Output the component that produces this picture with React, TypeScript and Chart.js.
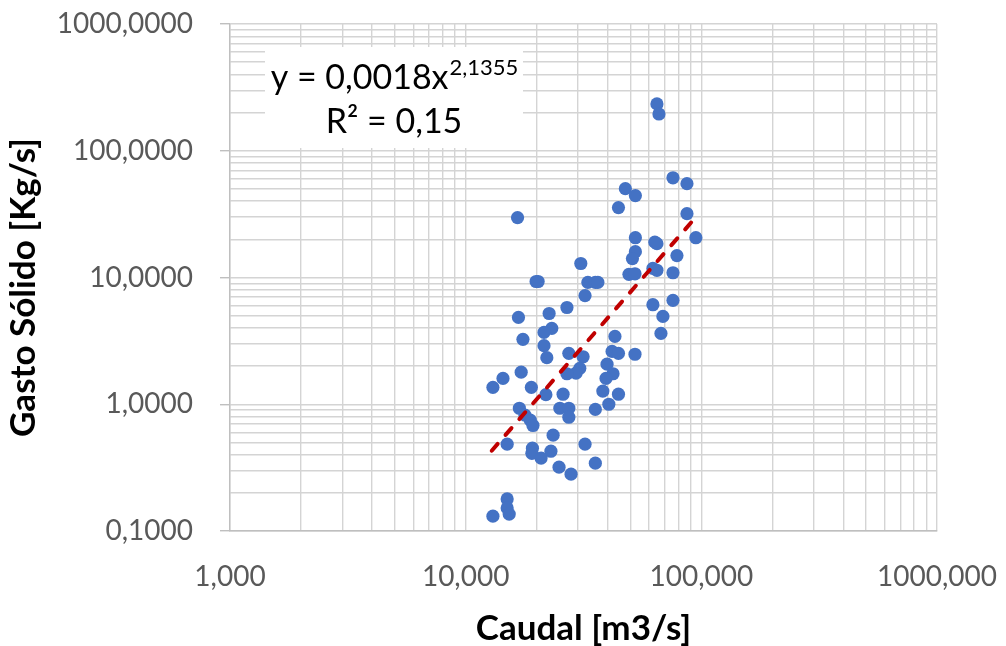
import React, { useEffect, useRef } from 'react';
import { Chart, registerables } from 'chart.js';

Chart.register(...registerables);

// Caudal [m3/s] (x) and Gasto Sólido [Kg/s] (y) observations
const caudal = [64.8, 66.1, 75.8, 86.9, 47.6, 52.5, 44.5, 86.9, 16.6, 94.8, 52.5, 64.8, 63.5, 52.5, 51.0, 78.8, 30.8, 49.3, 52.3, 62.3, 64.8, 75.8, 19.9, 20.3, 33.0, 35.5, 36.4, 32.1, 75.8, 62.3, 26.9, 16.75, 22.6, 68.7, 23.2, 21.5, 67.4, 17.5, 43.0, 21.5, 27.4, 31.5, 41.8, 44.5, 52.3, 22.1, 39.8, 30.5, 29.4, 26.9, 42.2, 39.4, 17.2, 14.4, 13.05, 19.0, 38.2, 44.5, 25.9, 21.9, 16.9, 17.85, 18.8, 19.3, 25.1, 27.4, 27.4, 35.5, 40.5, 23.5, 15.0, 32.1, 19.2, 19.1, 23.0, 20.9, 35.5, 24.9, 28.0, 15.0, 15.0, 15.3, 13.05];
const gasto = [234, 195, 61.2, 55, 50.2, 44.3, 35.6, 31.9, 29.7, 20.6, 20.6, 18.5, 19.0, 16.0, 14.1, 14.9, 12.9, 10.6, 10.7, 11.8, 11.4, 10.9, 9.3, 9.3, 9.15, 9.15, 9.15, 7.2, 6.6, 6.1, 5.8, 4.84, 5.2, 4.93, 3.97, 3.69, 3.62, 3.25, 3.43, 2.9, 2.52, 2.37, 2.61, 2.52, 2.48, 2.33, 2.07, 1.92, 1.76, 1.74, 1.74, 1.6, 1.79, 1.6, 1.36, 1.36, 1.27, 1.2, 1.2, 1.19, 0.93, 0.82, 0.75, 0.68, 0.93, 0.93, 0.79, 0.91, 1.0, 0.57, 0.484, 0.484, 0.45, 0.41, 0.426, 0.376, 0.343, 0.319, 0.281, 0.179, 0.152, 0.136, 0.131];

// Power trendline end points (y = 0,0018x^2,1355)
const trendCaudal = [12.9, 95.6];
const trendGasto = [0.43, 30.5];

// Axis ticks
const xMajorTicks = [1, 10, 100, 1000];
const yMajorTicks = [0.1, 1, 10, 100, 1000];
const minorMultipliers = [1, 2, 3, 4, 5, 6, 7, 8, 9];

const xTitle = 'Caudal [m3/s]';
const yTitle = 'Gasto Sólido [Kg/s]';
const equationMain = 'y = 0,0018x';
const equationExp = '2,1355';
const equationR2 = 'R² = 0,15';

const FONT = 'Lato, "Open Sans", sans-serif';

function buildTicks(majors: number[]): number[] {
  const out: number[] = [];
  for (let i = 0; i < majors.length - 1; i++) {
    for (const m of minorMultipliers) out.push(Number((majors[i] * m).toPrecision(6)));
  }
  out.push(majors[majors.length - 1]);
  return out;
}

const xTicks = buildTicks(xMajorTicks);
const yTicks = buildTicks(yMajorTicks);

const equationPlugin = {
  id: 'equationBox',
  afterDatasetsDraw(chart: any) {
    const { ctx, chartArea } = chart;
    const left = chartArea.left + 35;
    const top = chartArea.top + 23;
    const w = 258;
    const h = 101;
    ctx.save();
    ctx.fillStyle = '#ffffff';
    ctx.fillRect(left, top, w, h);
    const cx = left + w / 2;
    ctx.fillStyle = '#000000';
    ctx.textBaseline = 'alphabetic';
    ctx.textAlign = 'left';
    const mainFont = `34px ${FONT}`;
    const supFont = `22px ${FONT}`;
    ctx.font = mainFont;
    const mw = ctx.measureText(equationMain).width;
    ctx.font = supFont;
    const sw = ctx.measureText(equationExp).width;
    const x0 = cx - (mw + sw) / 2;
    ctx.font = mainFont;
    ctx.fillText(equationMain, x0, top + 42);
    ctx.font = supFont;
    ctx.fillText(equationExp, x0 + mw + 1, top + 28);
    ctx.font = mainFont;
    ctx.textAlign = 'center';
    ctx.fillText(equationR2, cx, top + 86);

    // Y axis title (rotated)
    ctx.save();
    ctx.translate(35, (chartArea.top + chartArea.bottom) / 2 + 10);
    ctx.rotate(-Math.PI / 2);
    ctx.font = `bold 35px ${FONT}`;
    ctx.fillStyle = '#000000';
    ctx.textAlign = 'center';
    ctx.textBaseline = 'alphabetic';
    ctx.fillText(yTitle, 0, 0);
    ctx.restore();
    ctx.restore();
  },
};

export default function App() {
  const canvasRef = useRef<HTMLCanvasElement | null>(null);

  useEffect(() => {
    if (!canvasRef.current) return;
    const points = caudal.map((x, i) => ({ x, y: gasto[i] }));
    const trend = trendCaudal.map((x, i) => ({ x, y: trendGasto[i] }));
    const chart = new Chart(canvasRef.current, {
      type: 'scatter',
      data: {
        datasets: [
          {
            label: 'Tendencia',
            data: trend,
            showLine: true,
            borderColor: '#C00000',
            borderWidth: 4,
            borderDash: [9, 12],
            borderCapStyle: 'round',
            pointRadius: 0,
            order: 0,
          } as any,
          {
            label: 'Datos',
            data: points,
            backgroundColor: '#4472C4',
            borderWidth: 0,
            pointRadius: 6.6,
            pointHoverRadius: 6.6,
            order: 1,
          },
        ],
      },
      options: {
        animation: false,
        responsive: false,
        devicePixelRatio: 1,
        layout: { padding: { left: 0, top: 24, right: 69, bottom: 0 } },
        plugins: { legend: { display: false }, tooltip: { enabled: false } },
        scales: {
          x: {
            type: 'logarithmic',
            min: 1,
            max: 1000,
            afterBuildTicks: (s: any) => {
              s.ticks = xTicks.map((v) => ({ value: v }));
            },
            afterFit: (s: any) => {
              s.height = 115;
              s.paddingLeft = 0;
              s.paddingRight = 0;
              s.paddingTop = 0;
              s.paddingBottom = 0;
            },
            ticks: {
              autoSkip: false,
              maxRotation: 0,
              minRotation: 0,
              padding: 29,
              color: '#595959',
              font: { family: FONT, size: 28 },
              callback: (v: any) => (xMajorTicks.includes(v) ? Number(v).toFixed(3).replace('.', ',') : ''),
            },
            grid: { color: '#d4d4d4', lineWidth: 1.4, drawTicks: false },
            border: { color: '#bfbfbf', width: 1.4 },
            title: {
              display: true,
              text: xTitle,
              color: '#000000',
              font: { family: FONT, size: 35, weight: 'bold', lineHeight: 1 },
              padding: { top: 0, bottom: 0 },
            },
          },
          y: {
            type: 'logarithmic',
            min: 0.1,
            max: 1000,
            afterBuildTicks: (s: any) => {
              s.ticks = yTicks.map((v) => ({ value: v }));
            },
            afterFit: (s: any) => {
              s.width = 230;
              s.paddingLeft = 0;
              s.paddingRight = 0;
              s.paddingTop = 0;
              s.paddingBottom = 0;
            },
            ticks: {
              autoSkip: false,
              padding: 27,
              color: '#595959',
              font: { family: FONT, size: 28 },
              callback: (v: any) => (yMajorTicks.includes(v) ? Number(v).toFixed(4).replace('.', ',') : ''),
            },
            grid: {
              color: '#d4d4d4',
              lineWidth: 1.4,
              tickLength: 10,
              tickColor: (c: any) => (c.tick && yMajorTicks.includes(c.tick.value) ? '#bfbfbf' : 'rgba(0,0,0,0)'),
            },
            border: { color: '#bfbfbf', width: 1.4 },
            title: { display: false },
          },
        },
      },
      plugins: [equationPlugin],
    } as any);
    return () => chart.destroy();
  }, []);

  return (
    <div style={{ position: 'fixed', left: 0, top: 0, width: 1006, height: 646, background: '#ffffff' }}>
      <canvas ref={canvasRef} width={1006} height={646} style={{ display: 'block', width: 1006, height: 646 }} />
    </div>
  );
}
